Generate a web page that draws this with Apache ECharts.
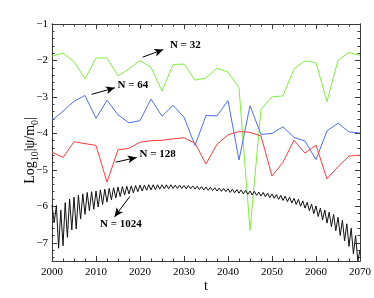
<!DOCTYPE html>
<html><head><meta charset="utf-8">
<script src="https://cdn.jsdelivr.net/npm/echarts@6/dist/echarts.min.js"></script>
<style>html,body{margin:0;padding:0;background:#fff}#c{width:374px;height:298px}</style>
</head><body><div id="c"></div>
<script>
// ---- data ----
const years = [2000,2002.5,2005,2007.5,2010,2012.5,2015,2017.5,2020,2022.5,2025,2027.5,2030,2032.5,2035,2037.5,2040,2042.5,2045,2047.5,2050,2052.5,2055,2057.5,2060,2062.5,2065,2067.5,2070];
const n32 = [-1.88,-1.80,-2.03,-2.51,-1.93,-1.93,-2.42,-2.23,-2.00,-2.19,-2.84,-2.11,-2.10,-2.54,-2.48,-2.21,-2.32,-2.75,-6.66,-3.34,-3.00,-2.97,-2.23,-2.01,-2.06,-3.13,-1.99,-1.78,-1.86];
const n64 = [-3.64,-3.39,-3.12,-2.96,-3.59,-3.09,-3.49,-3.71,-3.65,-3.06,-3.53,-3.23,-3.56,-4.33,-3.51,-3.52,-3.10,-4.73,-3.24,-4.03,-4.00,-3.82,-4.11,-4.21,-4.72,-3.93,-3.72,-3.96,-3.99];
const n128 = [-4.52,-4.66,-4.23,-4.28,-4.33,-5.34,-4.45,-4.41,-4.24,-4.20,-4.19,-4.15,-4.12,-4.27,-4.84,-4.30,-4.04,-3.95,-3.97,-4.07,-5.17,-4.79,-4.19,-4.54,-4.32,-5.25,-4.91,-4.62,-4.60];
const n1024Start = 2000, n1024Step = 0.5;
const n1024 = [
 -5.97,-6.45,-5.98,-7.15,-6.10,-7.08,-5.90,-6.85,-5.80,-6.65,
 -5.75,-6.62,-5.70,-6.35,-5.66,-6.22,-5.62,-6.12,-5.60,-6.08,
 -5.58,-6.02,-5.55,-5.95,-5.53,-5.88,-5.51,-5.82,-5.49,-5.77,
 -5.47,-5.73,-5.46,-5.69,-5.45,-5.66,-5.44,-5.63,-5.43,-5.60,
 -5.42,-5.58,-5.42,-5.56,-5.41,-5.55,-5.41,-5.54,-5.41,-5.53,
 -5.41,-5.52,-5.41,-5.52,-5.41,-5.51,-5.42,-5.51,-5.42,-5.51,
 -5.43,-5.52,-5.43,-5.52,-5.44,-5.53,-5.45,-5.54,-5.46,-5.55,
 -5.47,-5.56,-5.48,-5.57,-5.49,-5.58,-5.50,-5.59,-5.51,-5.60,
 -5.52,-5.62,-5.53,-5.63,-5.54,-5.64,-5.55,-5.66,-5.56,-5.67,
 -5.58,-5.69,-5.59,-5.70,-5.61,-5.72,-5.62,-5.74,-5.64,-5.76,
 -5.66,-5.78,-5.68,-5.81,-5.70,-5.84,-5.72,-5.87,-5.75,-5.91,
 -5.78,-5.95,-5.81,-6.00,-5.85,-6.05,-5.89,-6.12,-5.94,-6.20,
 -5.99,-6.28,-6.05,-6.37,-6.10,-6.46,-6.16,-6.56,-6.22,-6.67,
 -6.30,-6.80,-6.38,-6.95,-6.48,-7.10,-6.60,-7.30,-6.80,-7.50,
 -7.20];
const yMajorTicks = [-7,-6,-5,-4,-3,-2,-1];
const labels = ['N = 32','N = 64','N = 128','N = 1024'];
// annotation anchors (data coords): text start, arrow tail, arrow head
const labelPos = [[2026.8,-1.57],[2014.9,-2.67],[2019.9,-4.57],[2010.9,-6.48]];
const arrowFrom = [[2020.6,-1.91],[2009.0,-2.93],[2014.5,-4.79],[2017.7,-5.73]];
const arrowTo = [[2025.3,-1.70],[2014.3,-2.75],[2019.25,-4.66],[2014.2,-6.29]];

// ---- chart ----
const serif = 'Liberation Serif, Times New Roman, serif';
const frame = '#3a3a3a';
const yMinor = [];
for (let v = -7.4; v < -1.05; v += 0.2) { const r = Math.round(v*10)/10; if (Math.abs(r - Math.round(r)) > 1e-6) yMinor.push(r); }
const fmt = v => (v < 0 ? '\u2212' : '') + Math.abs(v);

function yAx(pos, major, withLabel, extra) {
  return Object.assign({
    type:'value', position:pos, min:-7.5, max:-1, gridIndex:0,
    axisLine:{show:true, lineStyle:{color:frame, width:1}},
    axisTick:{show:true, inside:true, length: major?5:2.5, customValues: major?yMajorTicks:yMinor, lineStyle:{color:frame}},
    axisLabel: withLabel ? {show:true, customValues:yMajorTicks, formatter:fmt, color:'#000', fontFamily:serif, fontSize:11, margin:4} : {show:false},
    splitLine:{show:false}
  }, extra||{});
}
function xAx(pos, withLabel, extra) {
  return Object.assign({
    type:'value', position:pos, min:2000, max:2070, interval:10, gridIndex:0,
    axisLine:{show:true, lineStyle:{color:frame, width:1}},
    axisTick:{show:true, inside:true, length:5, lineStyle:{color:frame}},
    minorTick:{show:true, splitNumber:4, length:2.5, lineStyle:{color:frame}},
    axisLabel: withLabel ? {show:true, formatter: v => String(v), color:'#000', fontFamily:serif, fontSize:11, margin:6} : {show:false},
    splitLine:{show:false}
  }, extra||{});
}

const chart = echarts.init(document.getElementById('c'), null, {renderer:'canvas'});
const pair = arr => years.map((t,i)=>[t,arr[i]]);
const blackData = n1024.map((v,i)=>[n1024Start + i*n1024Step, v]);
const lineCommon = {type:'line', showSymbol:false, symbol:'none', xAxisIndex:0, yAxisIndex:0, animation:false, clip:true};

chart.setOption({
  animation:false,
  grid:{left:52, top:24, width:308, height:244},
  xAxis:[
    xAx('bottom', true, {name:'t', nameLocation:'middle', nameGap:18, nameMoveOverlap:false, nameTextStyle:{color:'#000', fontFamily:serif, fontSize:14}}),
    xAx('top', false)
  ],
  yAxis:[
    yAx('left', true, true, {
      name:'{a|Log}{s|10}{a||\u03c8/m}{s|0}{a||}', nameLocation:'middle', nameGap:12, nameMoveOverlap:false,
      nameTextStyle:{color:'#000', fontFamily:serif, padding:[0,16,0,0], rich:{
        a:{fontFamily:serif, fontSize:14, lineHeight:20, color:'#000'},
        s:{fontFamily:serif, fontSize:10, lineHeight:10, verticalAlign:'bottom', color:'#000'}
      }}
    }),
    yAx('left', false, false),
    yAx('right', true, false),
    yAx('right', false, false)
  ],
  series:[
    Object.assign({}, lineCommon, {name:'N=32', data:pair(n32), lineStyle:{color:'#7ef03a', width:1}, itemStyle:{color:'#7ef03a'}}),
    Object.assign({}, lineCommon, {name:'N=64', data:pair(n64), lineStyle:{color:'#4f6bff', width:1}, itemStyle:{color:'#4f6bff'}}),
    Object.assign({}, lineCommon, {name:'N=128', data:pair(n128), lineStyle:{color:'#ff3a3a', width:1}, itemStyle:{color:'#ff3a3a'}}),
    Object.assign({}, lineCommon, {name:'N=1024', data:blackData, lineStyle:{color:'#111', width:1}, itemStyle:{color:'#111'},
      markLine:{silent:true, animation:false, symbol:['none','arrow'], symbolSize:[6,9],
        lineStyle:{color:'#000', width:1, type:'solid'}, label:{show:false},
        data: arrowFrom.map((f,i)=>[{coord:f},{coord:arrowTo[i]}])},
      markPoint:{silent:true, animation:false, symbol:'circle', symbolSize:0,
        label:{show:true, position:'right', distance:0, formatter:'{b}', color:'#000', fontFamily:serif, fontWeight:'bold', fontSize:11},
        data: labels.map((l,i)=>({name:l, coord:labelPos[i], value:0}))}
    })
  ]
});
</script></body></html>
